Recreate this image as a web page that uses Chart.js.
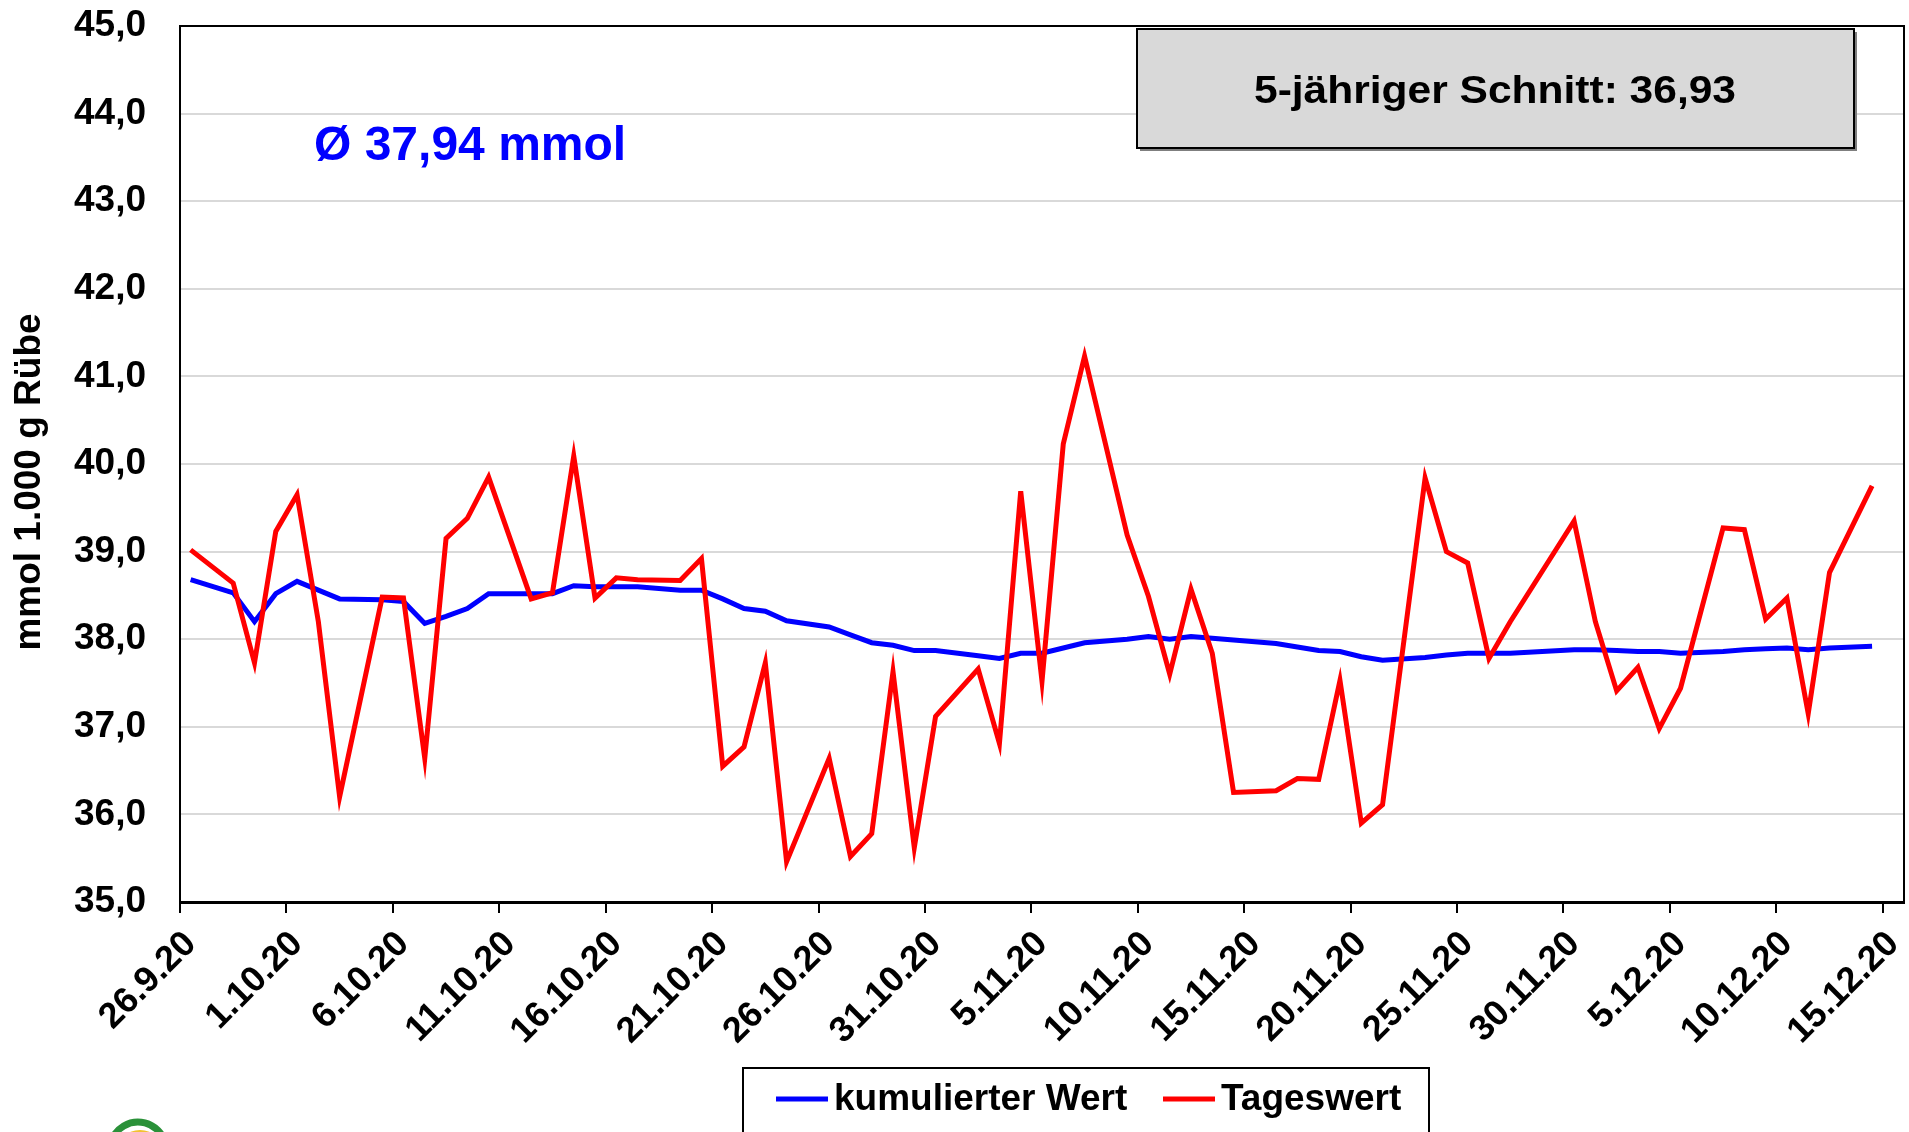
<!DOCTYPE html>
<html>
<head>
<meta charset="utf-8">
<script src="https://cdn.jsdelivr.net/npm/chart.js"></script>
<style>
  body { margin: 0; padding: 0; background: #fff; }
  canvas { display: block; }
</style>
</head>
<body>
<canvas id="mmolChart" width="1909" height="1132"></canvas>
<script>
const dates = [
  '26.9.20', '27.9.20', '28.9.20', '29.9.20', '30.9.20',
  '1.10.20', '2.10.20', '3.10.20', '4.10.20', '5.10.20', '6.10.20', '7.10.20', '8.10.20', '9.10.20', '10.10.20',
  '11.10.20', '12.10.20', '13.10.20', '14.10.20', '15.10.20', '16.10.20', '17.10.20', '18.10.20', '19.10.20', '20.10.20',
  '21.10.20', '22.10.20', '23.10.20', '24.10.20', '25.10.20', '26.10.20', '27.10.20', '28.10.20', '29.10.20', '30.10.20', '31.10.20',
  '1.11.20', '2.11.20', '3.11.20', '4.11.20', '5.11.20', '6.11.20', '7.11.20', '8.11.20', '9.11.20', '10.11.20',
  '11.11.20', '12.11.20', '13.11.20', '14.11.20', '15.11.20', '16.11.20', '17.11.20', '18.11.20', '19.11.20', '20.11.20',
  '21.11.20', '22.11.20', '23.11.20', '24.11.20', '25.11.20', '26.11.20', '27.11.20', '28.11.20', '29.11.20', '30.11.20',
  '1.12.20', '2.12.20', '3.12.20', '4.12.20', '5.12.20', '6.12.20', '7.12.20', '8.12.20', '9.12.20', '10.12.20',
  '11.12.20', '12.12.20', '13.12.20', '14.12.20', '15.12.20'
];

// Tageswert (mmol / 1.000 g Rübe), null = kein Wert an dem Tag
const tageswert = [
  39.02, null, 38.64, 37.73, 39.23, 39.65, 38.20, 36.20, null, 38.48,
  38.47, 36.64, 39.15, 39.38, 39.85, null, 38.46, 38.53, 40.09, 38.47,
  38.70, 38.68, null, 38.67, 38.92, 36.55, 36.77, 37.73, 35.46, null,
  36.64, 35.52, 35.78, 37.63, 35.62, 37.12, null, 37.66, 36.81, 39.69,
  37.52, 40.23, 41.23, null, 39.19, 38.49, 37.60, 38.57, 37.84, 36.25,
  null, 36.27, 36.41, 36.40, 37.53, 35.90, 36.11, null, 39.84, 39.00,
  38.87, 37.78, 38.20, null, null, 39.35, 38.20, 37.41, 37.68, 36.98,
  37.44, null, 39.27, 39.25, 38.23, 38.47, 37.15, 38.76, null, 39.75,
  null
];

const kumuliert = [
  38.68, null, 38.53, 38.20, 38.52, 38.66, 38.56, 38.46, null, 38.45,
  38.43, 38.18, 38.26, 38.35, 38.52, null, 38.52, 38.52, 38.61, 38.60,
  38.60, 38.60, null, 38.56, 38.56, 38.46, 38.35, 38.32, 38.21, null,
  38.14, 38.05, 37.96, 37.93, 37.87, 37.87, null, 37.81, 37.78, 37.84,
  37.84, 37.90, 37.96, null, 38.00, 38.03, 38.00, 38.03, 38.01, 37.99,
  null, 37.95, 37.91, 37.87, 37.86, 37.80, 37.76, null, 37.79, 37.82,
  37.84, 37.84, 37.84, null, null, 37.88, 37.88, 37.87, 37.86, 37.86,
  37.84, null, 37.86, 37.88, 37.89, 37.90, 37.88, 37.90, null, 37.92,
  null
];

const tickEvery = 5;
const yMin = 35, yMax = 45;
const durchschnitt = 'Ø 37,94 mmol';
const schnitt5 = '5-jähriger Schnitt: 36,93';

const FONT = "'Liberation Sans', Arial, sans-serif";
Chart.defaults.font.family = FONT;
Chart.defaults.color = '#000';

// Rahmen, Textfelder und Legende
const deko = {
  id: 'deko',
  afterDraw(chart) {
    const ctx = chart.ctx;
    const a = chart.chartArea;
    ctx.save();

    ctx.strokeStyle = '#000';
    ctx.lineWidth = 2;
    ctx.strokeRect(a.left, a.top, a.right - a.left, a.bottom - a.top);

    // Achsentitel
    ctx.save();
    ctx.translate(30, 482);
    ctx.rotate(-Math.PI / 2);
    ctx.font = 'bold 37px ' + FONT;
    ctx.textAlign = 'center';
    ctx.textBaseline = 'middle';
    ctx.fillStyle = '#000';
    ctx.fillText('mmol 1.000 g Rübe', 0, 0);
    ctx.restore();

    // Durchschnitt
    ctx.font = 'bold 48px ' + FONT;
    ctx.fillStyle = '#0000FF';
    ctx.textAlign = 'left';
    ctx.textBaseline = 'alphabetic';
    ctx.fillText(durchschnitt, 314, 160);

    // graue Box
    ctx.fillStyle = '#7f7f7f';
    ctx.fillRect(1140, 32, 717, 119);
    ctx.fillStyle = '#D9D9D9';
    ctx.fillRect(1137, 29, 717, 119);
    ctx.strokeStyle = '#000';
    ctx.lineWidth = 2;
    ctx.strokeRect(1137, 29, 717, 119);
    ctx.font = 'bold 38px ' + FONT;
    ctx.fillStyle = '#000';
    ctx.textAlign = 'center';
    const w = ctx.measureText(schnitt5).width;
    ctx.save();
    ctx.translate(1495, 103);
    ctx.scale(482 / w, 1);
    ctx.fillText(schnitt5, 0, 0);
    ctx.restore();

    // Legende
    ctx.fillStyle = '#fff';
    ctx.fillRect(743, 1068, 686, 80);
    ctx.strokeStyle = '#000';
    ctx.lineWidth = 2;
    ctx.strokeRect(743, 1068, 686, 80);
    const items = [
      { ds: chart.data.datasets[0], x0: 776, x1: 828, tx: 834 },
      { ds: chart.data.datasets[1], x0: 1163, x1: 1215, tx: 1221 }
    ];
    ctx.font = 'bold 37px ' + FONT;
    ctx.textAlign = 'left';
    ctx.textBaseline = 'middle';
    items.forEach(it => {
      ctx.strokeStyle = it.ds.borderColor;
      ctx.lineWidth = 5;
      ctx.beginPath();
      ctx.moveTo(it.x0, 1099);
      ctx.lineTo(it.x1, 1099);
      ctx.stroke();
      ctx.fillStyle = '#000';
      ctx.fillText(it.ds.label, it.tx, 1100);
    });

    // Logo (unten abgeschnitten)
    ctx.beginPath();
    ctx.ellipse(140, 1152, 24, 22, 0, Math.PI, 2 * Math.PI);
    ctx.fillStyle = '#F2C230';
    ctx.fill();
    ctx.beginPath();
    ctx.ellipse(138, 1150, 28, 28, 0, Math.PI * 1.08, Math.PI * 1.92);
    ctx.strokeStyle = '#2A9139';
    ctx.lineWidth = 7;
    ctx.stroke();

    ctx.restore();
  }
};

new Chart(document.getElementById('mmolChart'), {
  type: 'line',
  data: {
    labels: dates,
    datasets: [
      {
        label: 'kumulierter Wert',
        data: kumuliert,
        borderColor: '#0000FF',
        borderWidth: 5,
        pointRadius: 0,
        spanGaps: true,
        tension: 0,
        order: 2
      },
      {
        label: 'Tageswert',
        data: tageswert,
        borderColor: '#FF0000',
        borderWidth: 5,
        pointRadius: 0,
        spanGaps: true,
        tension: 0,
        order: 1
      }
    ]
  },
  options: {
    responsive: false,
    animation: false,
    layout: { padding: { top: 26, right: 5, bottom: 66, left: 0 } },
    plugins: {
      legend: { display: false },
      tooltip: { enabled: false }
    },
    scales: {
      x: {
        type: 'category',
        offset: true,
        grid: {
          offset: true,
          drawOnChartArea: false,
          tickLength: 11,
          lineWidth: 2,
          color: c => (c.index % tickEvery === 0 ? '#000' : 'rgba(0,0,0,0)')
        },
        border: { color: '#000', width: 3 },
        ticks: {
          autoSkip: false,
          maxRotation: 45,
          minRotation: 45,
          labelOffset: 0,
          padding: 10,
          font: { size: 36, weight: 'bold' },
          callback: (v, i) => (i % tickEvery === 0 ? dates[i] : '')
        },
        afterFit(s) {
          s.height = 164;
          s.paddingLeft = 0;
          s.paddingRight = 0;
        }
      },
      y: {
        min: yMin,
        max: yMax,
        grid: { color: '#D9D9D9', lineWidth: 2, drawTicks: false },
        border: { color: '#000', width: 2 },
        ticks: {
          stepSize: 1,
          padding: 34,
          font: { size: 37, weight: 'bold' },
          callback: v => v.toFixed(1).replace('.', ',')
        },
        afterFit(s) {
          s.width = 180;
          s.paddingTop = 0;
          s.paddingBottom = 0;
        }
      }
    }
  },
  plugins: [deko]
});
</script>
</body>
</html>
